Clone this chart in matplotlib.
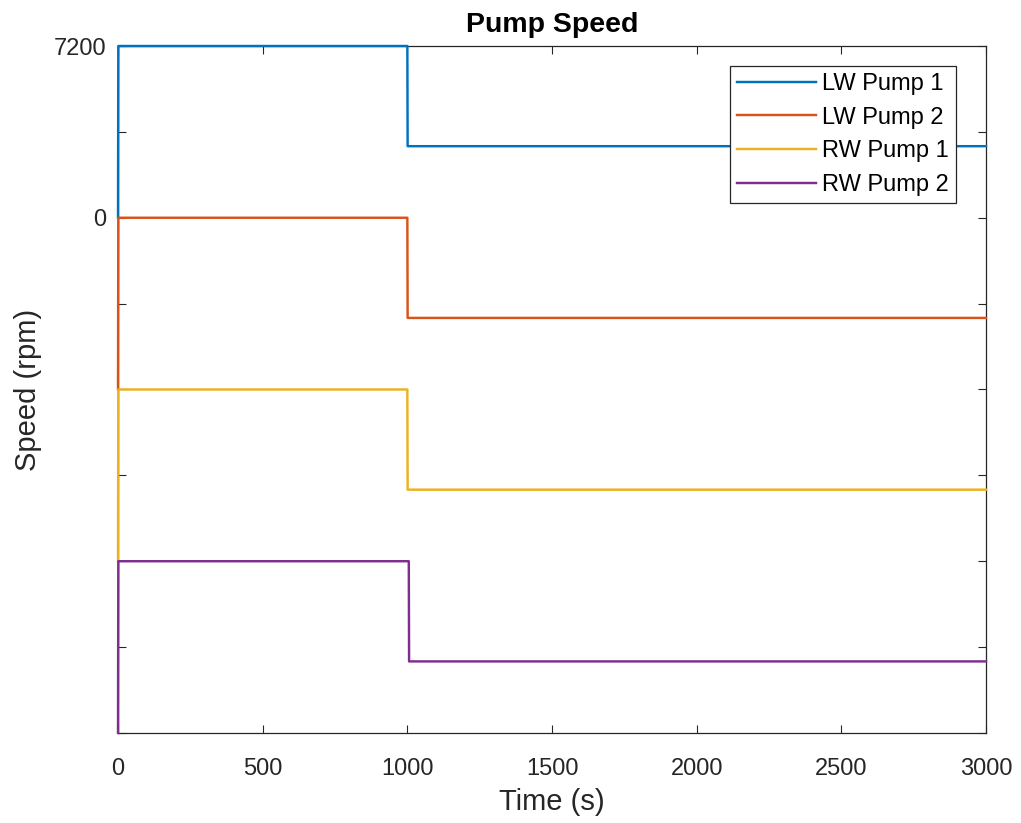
import matplotlib.pyplot as plt

plt.rcParams['font.family'] = ['Liberation Sans', 'DejaVu Sans']

# dados das bombas (rpm) ao longo do tempo (s)
tempo = [0, 1, 1000, 1001, 3000]
tempo_rw2 = [0, 1, 1005, 1006, 3000]
lw_pump1 = [0, 7200, 7200, 3000, 3000]
lw_pump2 = [0, 7200, 7200, 3000, 3000]
rw_pump1 = [0, 7200, 7200, 3000, 3000]
rw_pump2 = [0, 7200, 7200, 3000, 3000]
nomes = ['LW Pump 1', 'LW Pump 2', 'RW Pump 1', 'RW Pump 2']
deslocamentos = [0, -7200, -14400, -21600]
cores = ['#0072BD', '#D95319', '#EDB120', '#7E2F8E']

y_ticks = [-21600, -18000, -14400, -10800, -7200, -3600, 0, 3600, 7200]
y_labels = ['', '', '', '', '', '', '0', '', '7200']
x_ticks = [0, 500, 1000, 1500, 2000, 2500, 3000]

fig = plt.figure(figsize=(10.21, 8.23), dpi=100)
ax = fig.add_axes([0.1156, 0.1094, 0.8501, 0.8347])

series = [(tempo, lw_pump1), (tempo, lw_pump2), (tempo, rw_pump1), (tempo_rw2, rw_pump2)]
for (t, v), off, cor, nome in zip(series, deslocamentos, cores, nomes):
    ax.plot(t, [x + off for x in v], color=cor, lw=1.75, label=nome,
            clip_on=False, zorder=3)

ax.set_xlim(0, 3000)
ax.set_ylim(-21600, 7200)
ax.set_xticks(x_ticks)
ax.set_yticks(y_ticks)
ax.set_yticklabels(y_labels)

ax.tick_params(direction='in', length=5.5, width=0.8, top=True, right=True,
               labelsize=17, colors='#262626')
ax.tick_params(axis='x', pad=18)
ax.tick_params(axis='y', pad=8.5)
for s in ax.spines.values():
    s.set_color('#262626')
    s.set_linewidth(0.9)

ax.set_title('Pump Speed', fontsize=20.5, fontweight='bold', pad=10)
ax.set_xlabel('Time (s)', fontsize=21, color='#262626', labelpad=6)
ax.set_ylabel('Speed (rpm)', fontsize=21, color='#262626', labelpad=8)

leg = ax.legend(loc='upper right', bbox_to_anchor=(0.9654, 0.9713), fontsize=17,
                handlelength=3.35, handletextpad=0.25, labelspacing=0.5,
                borderpad=0.3, fancybox=False, framealpha=1, borderaxespad=0)
leg.get_frame().set_edgecolor('#262626')
leg.get_frame().set_linewidth(0.9)

fig.savefig('out.png', dpi=100)
